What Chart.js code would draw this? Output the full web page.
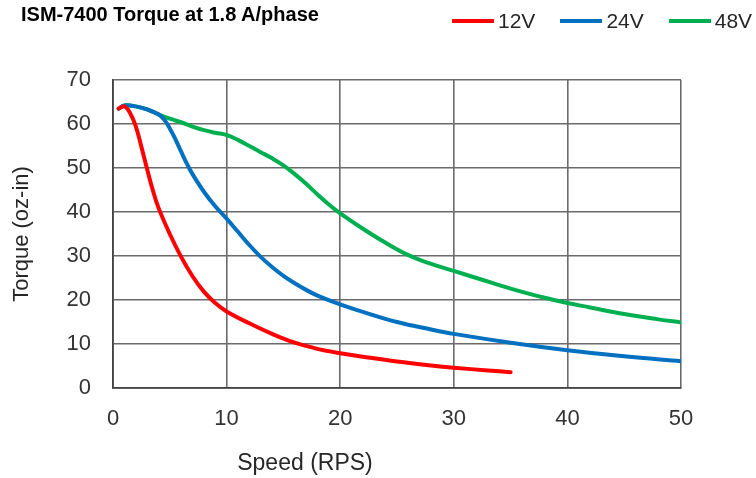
<!DOCTYPE html>
<html>
<head>
<meta charset="utf-8">
<script src="https://cdn.jsdelivr.net/npm/chart.js@4.4.1/dist/chart.umd.min.js"></script>
<style>
  html, body { margin: 0; padding: 0; background: #fff; }
  #wrap { position: relative; width: 756px; height: 478px; font-family: "Liberation Sans", Arial, sans-serif; }
  #title { position: absolute; left: 21px; top: 3px; font-size: 20px; line-height: 22px; font-weight: bold; color: #000; white-space: nowrap; }
  #legend { position: absolute; left: 452px; top: 9px; display: flex; align-items: center; height: 24px; }
  .li { display: flex; align-items: center; margin-right: 25px; }
  .li:last-child { margin-right: 0; }
  .ln { width: 42px; height: 4px; margin-right: 4px; }
  .lt { font-size: 21px; line-height: 24px; color: #262626; white-space: nowrap; }
  #xtitle { position: absolute; left: 305px; top: 462px; transform: translate(-50%, -50%); font-size: 23px; color: #262626; white-space: nowrap; }
  canvas { position: absolute; left: 0; top: 0; }
</style>
</head>
<body>
<div id="wrap">
  <canvas id="c" width="756" height="478"></canvas>
  <div id="title">ISM-7400 Torque at 1.8 A/phase</div>
  <div id="legend"></div>
  <div id="xtitle">Speed (RPS)</div>
</div>
<script>
// ---- Data ----
const seriesLabels = ["12V", "24V", "48V"];
const seriesColors = ["#ff0000", "#0070c0", "#00b050"];

const speed12  = [0.5, 1, 1.5, 2, 2.5, 3, 3.5, 4, 5, 6, 7, 8, 9, 10, 12, 14, 16, 18, 20, 22, 25, 28, 30, 33, 35];
const torque12 = [63.5, 64, 62.5, 59.5, 54.8, 49.8, 45, 41, 35, 29.8, 25.4, 21.9, 19.3, 17.4, 14.7, 12.3, 10.3, 8.9, 7.9, 7.1, 6.0, 5.1, 4.6, 4.0, 3.6];

const speed24  = [0.5, 1, 2, 3, 4, 4.5, 5, 5.5, 6, 6.5, 7, 8, 9, 10, 11, 12, 13, 14, 15, 16, 17, 18, 20, 22, 25, 28, 30, 35, 40, 45, 50];
const torque24 = [63.5, 64.2, 64, 63.3, 62.2, 61, 59, 56.5, 53.7, 51, 48.6, 44.6, 41.3, 38.5, 35.5, 32.5, 29.8, 27.5, 25.5, 23.8, 22.3, 21, 19, 17.3, 15, 13.3, 12.3, 10.3, 8.6, 7.2, 6.1];

const speed48  = [0.5, 1, 2, 3, 4, 5, 6, 7, 8, 9, 10, 11, 12, 13, 14, 15, 16, 17, 18, 19, 20, 22, 24, 26, 28, 30, 32, 35, 38, 40, 42, 45, 48, 50];
const torque48 = [63.5, 64.2, 64, 63.3, 62.2, 61.2, 60.4, 59.4, 58.6, 58, 57.5, 56.4, 55, 53.6, 52.2, 50.6, 48.6, 46.4, 44, 41.7, 39.7, 36.2, 33, 30.2, 28.2, 26.6, 25, 22.6, 20.5, 19.3, 18.3, 16.8, 15.6, 14.9];

const xTicks = [0, 10, 20, 30, 40, 50];
const yTicks = [0, 10, 20, 30, 40, 50, 60, 70];

// ---- Build chart ----
const toPts = (xs, ys) => xs.map((x, i) => ({ x: x, y: ys[i] }));
const seriesX = [speed12, speed24, speed48];
const seriesY = [torque12, torque24, torque48];

const datasets = seriesLabels.map((lab, i) => ({
  label: lab,
  data: toPts(seriesX[i], seriesY[i]),
  borderColor: seriesColors[i],
  backgroundColor: seriesColors[i],
  borderWidth: 4,
  pointRadius: 0,
  pointHoverRadius: 0,
  showLine: true,
  fill: false,
  tension: 0.4,
  borderCapStyle: 'round',
  borderJoinStyle: 'round'
}));

const gridColor = '#6b6b6b';
const tickFont = { family: '"Liberation Sans", Arial, sans-serif', size: 22 };

const chart = new Chart(document.getElementById('c'), {
  type: 'scatter',
  data: { datasets: datasets },
  options: {
    responsive: false,
    animation: false,
    devicePixelRatio: 1,
    layout: { padding: { top: 80, right: 75, bottom: 0, left: 0 } },
    plugins: {
      legend: { display: false },
      title: { display: false },
      tooltip: { enabled: false }
    },
    scales: {
      x: {
        type: 'linear',
        min: xTicks[0],
        max: xTicks[xTicks.length - 1],
        afterBuildTicks: (s) => { s.ticks = xTicks.map(v => ({ value: v })); },
        afterFit: (s) => { s.height = 90; },
        grid: { color: gridColor, lineWidth: 1.6, drawTicks: false },
        border: { color: '#444', width: 1.8 },
        ticks: { font: tickFont, color: '#333', padding: 18, maxRotation: 0 }
      },
      y: {
        type: 'linear',
        min: yTicks[0],
        max: yTicks[yTicks.length - 1],
        afterBuildTicks: (s) => { s.ticks = yTicks.map(v => ({ value: v })); },
        afterFit: (s) => { s.width = 113; },
        grid: { color: gridColor, lineWidth: 1.6, drawTicks: false },
        border: { color: '#444', width: 1.8 },
        ticks: { font: tickFont, color: '#333', padding: 22 },
        title: {
          display: true,
          text: 'Torque (oz-in)',
          color: '#262626',
          font: { family: '"Liberation Sans", Arial, sans-serif', size: 22 },
          padding: { top: 9, bottom: 0 }
        }
      }
    }
  }
});

// HTML legend built from the chart's datasets
const leg = document.getElementById('legend');
chart.data.datasets.forEach(ds => {
  const item = document.createElement('div');
  item.className = 'li';
  const ln = document.createElement('span');
  ln.className = 'ln';
  ln.style.background = ds.borderColor;
  const t = document.createElement('span');
  t.className = 'lt';
  t.textContent = ds.label;
  item.appendChild(ln);
  item.appendChild(t);
  leg.appendChild(item);
});
</script>
</body>
</html>
